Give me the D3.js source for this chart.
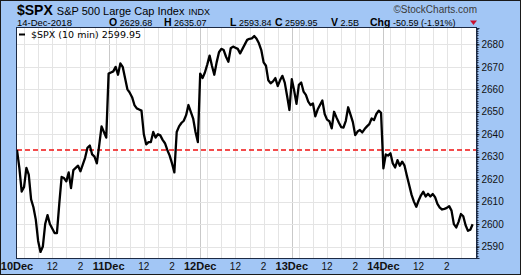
<!DOCTYPE html>
<html>
<head>
<meta charset="utf-8">
<script src="https://cdn.jsdelivr.net/npm/d3@7/dist/d3.min.js"></script>
<style>
    body { margin: 0; background: #fff; }
    svg { display: block; font-family: "Liberation Sans", Arial, sans-serif; }
</style>
</head>
<body>
<div id="chart"></div>
<script>
// Define data
// ============================================================================
const days = ["10Dec", "11Dec", "12Dec", "13Dec", "14Dec"];

// 10 min closes, 39 bars per session (9:30 - 15:50)
const dec10 = [2633, 2625, 2614.5, 2616.5, 2625, 2622, 2611, 2607.5, 2602, 2592.5,
    2587.6, 2590, 2600, 2604, 2600, 2598, 2596, 2596, 2609, 2621,
    2620.5, 2619, 2623, 2616, 2624, 2625, 2626, 2623.5, 2626.5, 2629.5,
    2634, 2635, 2631, 2630, 2627, 2635, 2643.5, 2641, 2638.5];
const dec11 = [2667, 2667.5, 2668, 2670, 2666.5, 2671.5, 2670, 2665, 2660, 2658.5,
    2656.5, 2653, 2651.5, 2651, 2650.5, 2640, 2635.5, 2636.5, 2636.5, 2641,
    2638.5, 2640, 2639.5, 2637.5, 2636, 2633, 2630.5, 2627, 2623, 2641,
    2643.5, 2645, 2646, 2648.5, 2653, 2650, 2647, 2641, 2636.5];
const dec12 = [2667, 2665, 2667.5, 2671, 2675, 2670.5, 2666.5, 2672, 2676.5, 2678,
    2677.5, 2674.5, 2672.3, 2678.3, 2679, 2678.5, 2678, 2676, 2678, 2680,
    2682, 2682.5, 2682.7, 2683.7, 2682.5, 2680.5, 2677.5, 2672, 2670.5, 2664,
    2662.7, 2663.5, 2665, 2661.5, 2664, 2666, 2663, 2657, 2650.8];
const dec13 = [2664.5, 2659.5, 2653.5, 2662, 2663, 2659, 2657.5, 2654.5, 2653, 2653.7,
    2648, 2651, 2653, 2655, 2649, 2646.5, 2645.8, 2642.6, 2650, 2647.5,
    2645.2, 2643.2, 2643, 2646, 2652, 2648.7, 2645.4, 2639.6, 2641.2, 2641.9,
    2640.8, 2642.3, 2643.5, 2644.5, 2647, 2646.3, 2649, 2650.5, 2649.5];
const dec14 = [2624.8, 2631, 2630.5, 2631.5, 2627, 2625.2, 2628.5, 2626, 2627.8, 2626,
    2621.5, 2617.3, 2613, 2610, 2607.7, 2610.5, 2612.8, 2614.4, 2612.3, 2613.5,
    2612.3, 2613.4, 2612, 2609, 2607.3, 2606.5, 2606.8, 2607.2, 2608, 2606,
    2600, 2598.5, 2601, 2604.5, 2603.5, 2599.5, 2597, 2597.5, 2599.95];

const refLevel = 2633;
const yTicks = [2590, 2600, 2610, 2620, 2630, 2640, 2650, 2660, 2670, 2680];
const hourLabels = ["12", "2"],
    hourLabelTimes = [12, 14],
    gridHours = [10, 11, 12, 13, 14, 15];

const quoteKeys = ["O", "H", "L", "C", "V", "Chg"],
    quoteValues = ["2629.68", "2635.07", "2593.84", "2599.95", "2.5B", "-50.59 (-1.91%)"];

// Layout
// ============================================================================
const W = 521, H = 275,
    plot = {left: 17, right: 476, top: 28, bottom: 258},
    barsPerDay = 39,
    quoteX = [109, 164, 230, 275, 331, 370];

const series = [dec10, dec11, dec12, dec13, dec14];
const data = [];
series.forEach((s, d) => s.forEach((v, i) => data.push({bar: d * barsPerDay + i, value: v})));

const barOf = h => (h - 9.5) * 6;

const svg = d3.select("#chart")
    .append("svg")
        .attr("width", W)
        .attr("height", H);

svg.append("rect")
    .attr("x", 0.5).attr("y", 0.5)
    .attr("width", W - 1).attr("height", H - 1)
    .attr("fill", "#a2c6f5")
    .attr("stroke", "#1a1a1a");

svg.append("rect")
    .attr("x", plot.left).attr("y", plot.top)
    .attr("width", plot.right - plot.left).attr("height", plot.bottom - plot.top)
    .attr("fill", "#fff");

// Scales
let xScale = d3.scaleLinear()
    .domain([0, days.length * barsPerDay])
    .range([plot.left, plot.right - 1]);

let yScale = d3.scaleLinear()
    .domain([2584.9, 2687.3])
    .range([plot.bottom, plot.top]);

// Grid
const vGrid = [];
days.forEach((d, i) => gridHours.forEach(h => vGrid.push(i * barsPerDay + barOf(h))));

svg.append("g")
    .selectAll("line")
    .data(vGrid)
    .enter()
    .append("line")
        .attr("x1", d => Math.round(xScale(d)) + 0.5)
        .attr("x2", d => Math.round(xScale(d)) + 0.5)
        .attr("y1", plot.top)
        .attr("y2", plot.bottom)
        .attr("stroke", "#e4e4e4");

svg.append("g")
    .selectAll("line")
    .data(days.slice(1))
    .enter()
    .append("line")
        .attr("x1", (d, i) => Math.round(xScale((i + 1) * barsPerDay)) + 0.5)
        .attr("x2", (d, i) => Math.round(xScale((i + 1) * barsPerDay)) + 0.5)
        .attr("y1", plot.top)
        .attr("y2", plot.bottom)
        .attr("stroke", "#c9c9c9");

svg.append("g")
    .selectAll("line")
    .data(yTicks)
    .enter()
    .append("line")
        .attr("x1", plot.left)
        .attr("x2", plot.right)
        .attr("y1", d => Math.round(yScale(d)) + 0.5)
        .attr("y2", d => Math.round(yScale(d)) + 0.5)
        .attr("stroke", "#e4e4e4");

// Reference level
svg.append("line")
    .attr("x1", plot.left)
    .attr("x2", plot.right)
    .attr("y1", yScale(refLevel))
    .attr("y2", yScale(refLevel))
    .attr("stroke", "#f01010")
    .attr("stroke-width", 1.6)
    .style("stroke-dasharray", ("5, 3"));

// Price line
svg.append("path")
    .datum(data)
    .attr("fill", "none")
    .attr("stroke", "#000")
    .attr("stroke-width", 2.3)
    .attr("stroke-linejoin", "round")
    .attr("d", d3.line().x(d => xScale(d.bar)).y(d => yScale(d.value)));

// Plot border
svg.append("rect")
    .attr("x", plot.left - 0.5).attr("y", plot.top - 0.5)
    .attr("width", plot.right - plot.left + 1).attr("height", plot.bottom - plot.top + 1)
    .attr("fill", "none")
    .attr("stroke", "#1c2a44");

// Right axis with minor ticks
svg.append("g")
    .attr("transform", "translate(" + (plot.right + 0.5) + ",0)")
    .selectAll("line")
    .data(d3.range(2585, 2688))
    .enter()
    .append("line")
        .attr("x1", 0)
        .attr("x2", 2)
        .attr("y1", d => Math.round(yScale(d)) + 0.5)
        .attr("y2", d => Math.round(yScale(d)) + 0.5)
        .attr("stroke", "#1c2a44");

const yAxis = svg.append("g")
    .attr("transform", "translate(" + (plot.right + 0.5) + ",0)")
    .call(d3.axisRight(yScale).tickValues(yTicks).tickSize(3).tickPadding(2).tickFormat(d3.format("d")));
yAxis.select(".domain").attr("stroke", "#1c2a44");
yAxis.selectAll("text")
    .attr("font-family", "Liberation Sans, Arial, sans-serif")
    .attr("font-size", 10)
    .attr("fill", "#111");

// Bottom axis labels
const xTicks = [];
days.forEach((d, i) => {
    xTicks.push({bar: i * barsPerDay, text: d, day: true});
    hourLabels.forEach((h, j) => xTicks.push({bar: i * barsPerDay + barOf(hourLabelTimes[j]), text: h, day: false}));
});

svg.append("g")
    .selectAll("text")
    .data(xTicks)
    .enter()
    .append("text")
        .attr("x", d => xScale(d.bar))
        .attr("y", 270)
        .attr("text-anchor", "middle")
        .attr("font-size", d => d.day ? 11 : 10)
        .attr("font-weight", d => d.day ? "bold" : "normal")
        .attr("fill", "#111")
        .text(d => d.text);

// Header
const title = svg.append("text")
    .attr("x", 17)
    .attr("y", 15)
    .attr("fill", "#000");
title.append("tspan").attr("font-size", 14).attr("font-weight", "bold").text("$SPX");
title.append("tspan").attr("font-size", 11).attr("dx", 4).text("S&P 500 Large Cap Index");
title.append("tspan").attr("font-size", 9).attr("dx", 4).text("INDX");

svg.append("text")
    .attr("x", 17)
    .attr("y", 25.5)
    .attr("font-size", 9.5)
    .attr("fill", "#000")
    .text("14-Dec-2018");

quoteKeys.forEach((k, i) => {
    const t = svg.append("text")
        .attr("x", quoteX[i])
        .attr("y", 25.5)
        .attr("fill", "#000");
    t.append("tspan").attr("font-size", 10.5).attr("font-weight", "bold").text(k);
    t.append("tspan").attr("font-size", 9).attr("dx", 2.5).text(quoteValues[i]);
});

svg.append("path")
    .attr("d", "M470,20.5 L477,20.5 L473.5,25 Z")
    .attr("fill", "#c8102e");

svg.append("text")
    .attr("x", 477)
    .attr("y", 12.5)
    .attr("text-anchor", "end")
    .attr("font-size", 10)
    .attr("fill", "#3a3a3a")
    .text("\u00A9StockCharts.com");

// Legend
svg.append("line")
    .attr("x1", 19).attr("x2", 25)
    .attr("y1", 34.5).attr("y2", 34.5)
    .attr("stroke", "#000")
    .attr("stroke-width", 2);

svg.append("text")
    .attr("x", 31)
    .attr("y", 38)
    .attr("font-family", "DejaVu Sans, Verdana, sans-serif")
    .attr("font-size", 9.5)
    .attr("fill", "#000")
    .text("$SPX (10 min) 2599.95");
</script>
</body>
</html>
